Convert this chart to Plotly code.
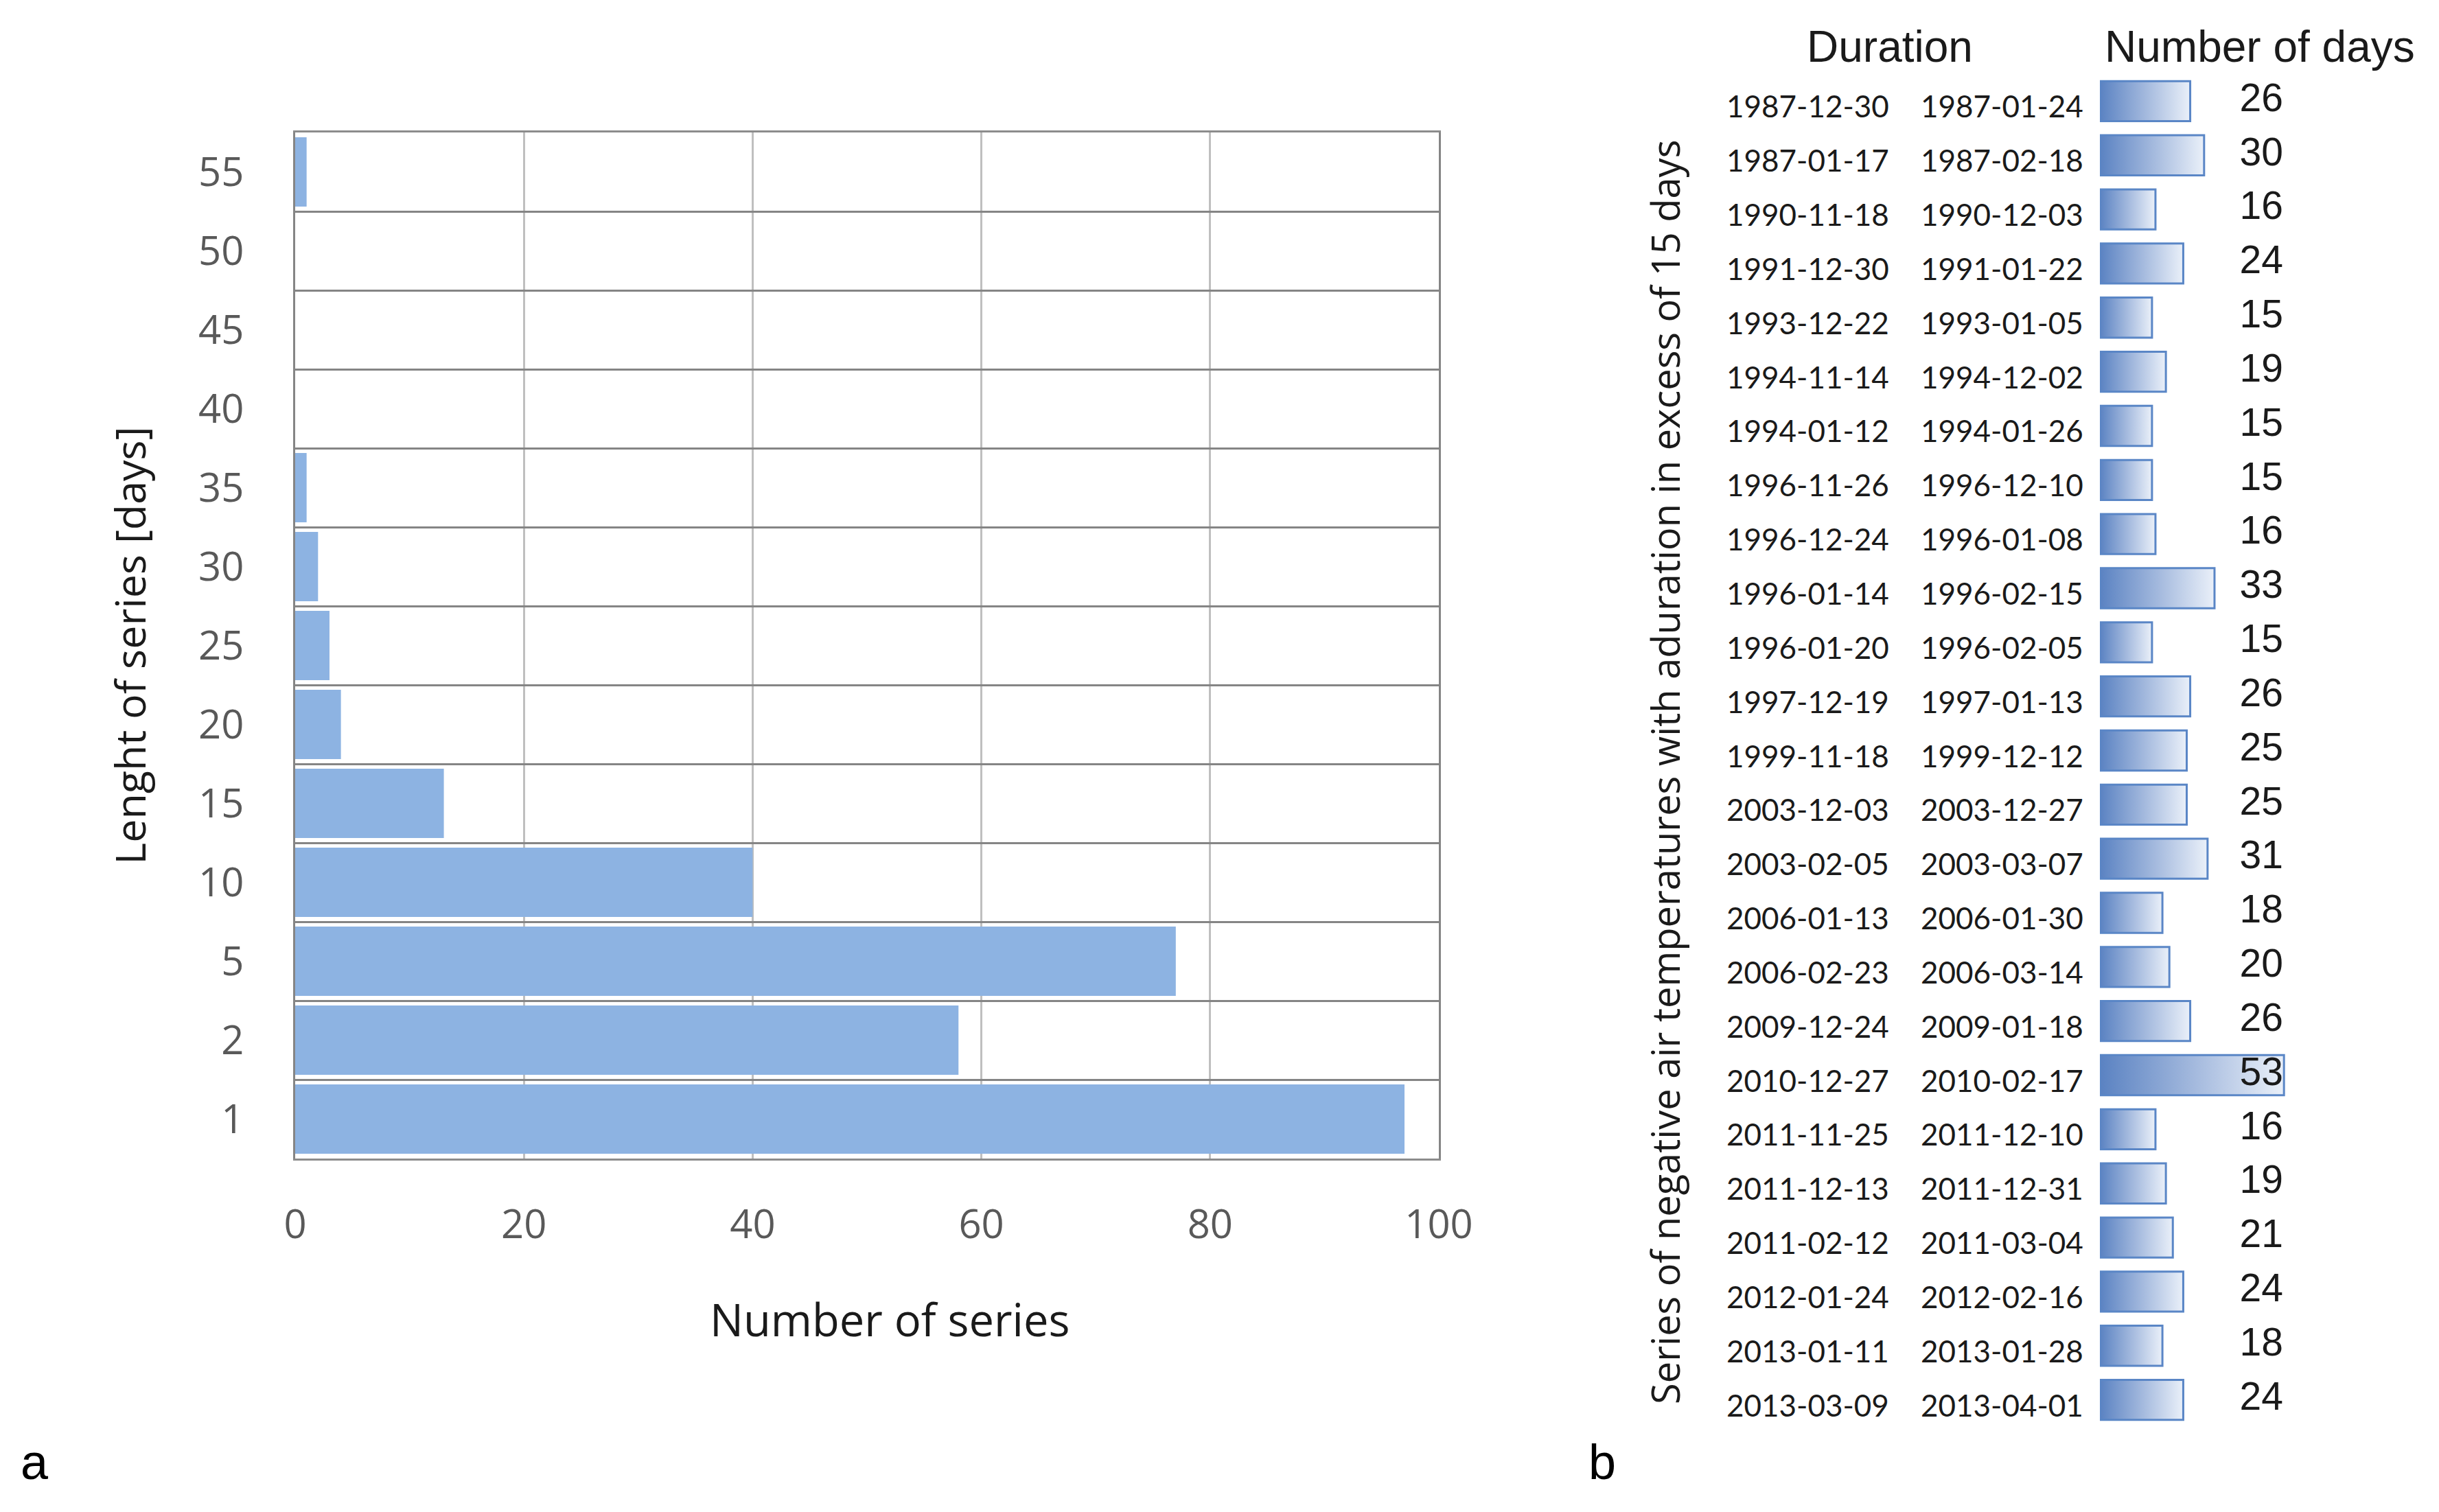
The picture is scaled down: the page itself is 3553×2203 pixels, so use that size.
import plotly.graph_objects as go

# ---------------- data: panel a ----------------
length_categories = ["1", "2", "5", "10", "15", "20", "25", "30", "35", "40", "45", "50", "55"]
number_of_series = [97, 58, 77, 40, 13, 4, 3, 2, 1, 0, 0, 0, 1]
x_tick_values = [0, 20, 40, 60, 80, 100]

# ---------------- data: panel b ----------------
start_dates = ["1987-12-30", "1987-01-17", "1990-11-18", "1991-12-30", "1993-12-22",
               "1994-11-14", "1994-01-12", "1996-11-26", "1996-12-24", "1996-01-14",
               "1996-01-20", "1997-12-19", "1999-11-18", "2003-12-03", "2003-02-05",
               "2006-01-13", "2006-02-23", "2009-12-24", "2010-12-27", "2011-11-25",
               "2011-12-13", "2011-02-12", "2012-01-24", "2013-01-11", "2013-03-09"]
end_dates = ["1987-01-24", "1987-02-18", "1990-12-03", "1991-01-22", "1993-01-05",
             "1994-12-02", "1994-01-26", "1996-12-10", "1996-01-08", "1996-02-15",
             "1996-02-05", "1997-01-13", "1999-12-12", "2003-12-27", "2003-03-07",
             "2006-01-30", "2006-03-14", "2009-01-18", "2010-02-17", "2011-12-10",
             "2011-12-31", "2011-03-04", "2012-02-16", "2013-01-28", "2013-04-01"]
number_of_days = [26, 30, 16, 24, 15, 19, 15, 15, 16, 33, 15, 26, 25, 25, 31,
                  18, 20, 26, 53, 16, 19, 21, 24, 18, 24]

W, H = 3553, 2203
OFF = 8  # page body margin


def xp(px):
    return (px - OFF) / W


def yp(py):
    return 1 - (py - OFF) / H


TICK_FONT = dict(family="Open Sans, Noto Sans, sans-serif", size=58, color="#595959")
TITLE_FONT = dict(family="Open Sans, Noto Sans, sans-serif", size=61, color="#1a1a1a")

fig = go.Figure()

# Panel a: horizontal bars
fig.add_trace(go.Bar(
    x=number_of_series, y=length_categories, orientation="h",
    marker=dict(color="#8DB3E2", line=dict(width=0)),
    xaxis="x", yaxis="y", showlegend=False, hoverinfo="x+y",
))

# Panel b: gradient bars, one filled shape per row
half = 0.37
for i, v in enumerate(number_of_days):
    fig.add_trace(go.Scatter(
        x=[0, v, v, 0, 0],
        y=[i - half, i - half, i + half, i + half, i - half],
        mode="lines", fill="toself",
        fillgradient=dict(type="horizontal",
                          colorscale=[[0, "#5A82C2"], [0.5, "#A2B8DD"], [1, "#EAF0F9"]]),
        line=dict(color="#5A86C6", width=3),
        xaxis="x2", yaxis="y2", showlegend=False, hoverinfo="skip",
    ))

# Numbers column of panel b
row_ids = list(range(len(number_of_days)))
fig.add_trace(go.Scatter(
    x=[46.5] * len(row_ids), y=row_ids, mode="text",
    text=[str(v) for v in number_of_days], textposition="middle center",
    textfont=dict(family="Liberation Sans, Arial, sans-serif", size=57, color="#1a1a1a"),
    xaxis="x2", yaxis="y2", showlegend=False, hoverinfo="skip",
))

date_font = dict(family="Lato, Carlito, sans-serif", size=44, color="#1a1a1a")
for i in row_ids:
    fig.add_annotation(x=xp(2633), xref="paper", y=i, yref="y2", text=start_dates[i],
                       showarrow=False, font=date_font, xanchor="center", yanchor="middle", yshift=-7)
    fig.add_annotation(x=xp(2916), xref="paper", y=i, yref="y2", text=end_dates[i],
                       showarrow=False, font=date_font, xanchor="center", yanchor="middle", yshift=-7)

head_font = dict(family="Liberation Sans, Arial, sans-serif", size=64, color="#1a1a1a")
fig.add_annotation(x=xp(2753), y=yp(68), xref="paper", yref="paper", text="Duration",
                   showarrow=False, font=head_font, xanchor="center", yanchor="middle")
fig.add_annotation(x=xp(3292), y=yp(68), xref="paper", yref="paper", text="Number of days",
                   showarrow=False, font=head_font, xanchor="center", yanchor="middle")
fig.add_annotation(x=xp(2425), y=yp(1125), xref="paper", yref="paper",
                   text="Series of negative air temperatures with aduration in excess of 15 days",
                   textangle=-90, showarrow=False,
                   font=dict(family="Open Sans, Noto Sans, sans-serif", size=56, color="#1a1a1a"),
                   xanchor="center", yanchor="middle")

# x-axis title of panel a (placed slightly right of the plot centre, as in the original)
fig.add_annotation(x=xp(1296), y=yp(1922), xref="paper", yref="paper", text="Number of series",
                   showarrow=False,
                   font=dict(family="Open Sans, Noto Sans, sans-serif", size=65, color="#1a1a1a"),
                   xanchor="center", yanchor="middle")

# Panel letters
letter_font = dict(family="Liberation Sans, Arial, sans-serif", size=72, color="#000000")
fig.add_annotation(x=xp(50), y=yp(2130), xref="paper", yref="paper", text="a", showarrow=False,
                   font=letter_font, xanchor="center", yanchor="middle")
fig.add_annotation(x=xp(2334), y=yp(2130), xref="paper", yref="paper", text="b", showarrow=False,
                   font=letter_font, xanchor="center", yanchor="middle")

fig.update_layout(
    width=W, height=H,
    margin=dict(l=0, r=0, t=0, b=0, autoexpand=False),
    paper_bgcolor="white", plot_bgcolor="white",
    bargap=0.12,
    xaxis=dict(
        domain=[xp(430), xp(2096)], range=[0, 100], tickvals=x_tick_values,
        showgrid=True, gridcolor="#BFBFBF", gridwidth=3,
        showline=True, linecolor="#8C8C8C", linewidth=3, mirror=True,
        zeroline=False, ticks="", ticklabelstandoff=43, tickfont=TICK_FONT,
        anchor="y", automargin=False,
    ),
    yaxis=dict(
        domain=[yp(1688), yp(193)], type="category", categoryorder="array",
        categoryarray=length_categories, tickson="boundaries",
        showgrid=True, gridcolor="#858585", gridwidth=3,
        showline=True, linecolor="#858585", linewidth=3, mirror=True,
        ticks="", ticklabelstandoff=60, tickfont=TICK_FONT,
        title=dict(text="Lenght of series [days]", font=TITLE_FONT, standoff=57),
        anchor="x", automargin=False,
    ),
    xaxis2=dict(domain=[xp(3059), xp(3059) + 60 * 5.06 / W], range=[0, 60], visible=False,
                anchor="y2", automargin=False),
    yaxis2=dict(domain=[yp(2079), yp(108)], range=[24.5, -0.5], visible=False,
                anchor="x2", automargin=False),
)

fig.write_html("out.html")
